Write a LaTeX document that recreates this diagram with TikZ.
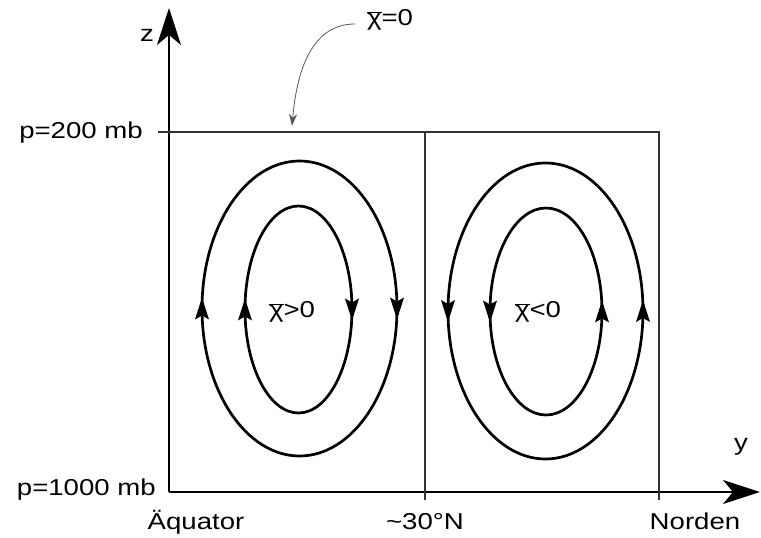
\documentclass[tikz,border=0pt]{standalone}
\usepackage{fontspec}
\setmainfont[FakeStretch=1.2]{Liberation Sans}
\usetikzlibrary{arrows.meta,decorations.markings}
\newcommand{\headfwd}{\fill (11pt,0pt) -- (-11pt,7pt) -- (-7pt,0pt) -- (-11pt,-7pt) -- cycle;}
\newcommand{\headbck}{\fill (-11pt,0pt) -- (11pt,7pt) -- (7pt,0pt) -- (11pt,-7pt) -- cycle;}
\tikzset{
  >={Stealth[length=37pt,width=24pt,inset=10pt]},
  ax/.style={line width=1.3pt},
  bx/.style={line width=1.1pt,black!80},
  ccw/.style={line width=2.7pt,postaction={decorate},decoration={markings,
      mark=at position 0 with {\headfwd},
      mark=at position 0.5 with {\headfwd}}},
  cw/.style={line width=2.7pt,postaction={decorate},decoration={markings,
      mark=at position 0 with {\headbck},
      mark=at position 0.5 with {\headbck}}},
  lbl/.style={font=\fontsize{23}{26}\selectfont,inner sep=0pt},
}
\newcommand{\chibar}{$\overline{\hbox{χ}}$}

\begin{document}
\begin{tikzpicture}[x=1pt,y=1pt]
\useasboundingbox (0,0) rectangle (761,538);
\coordinate (O) at (169,46); \coordinate (ztip) at (169,530); \coordinate (ytip) at (760,46);
\coordinate (tl) at (169,406); \coordinate (tm) at (425,406); \coordinate (tr) at (659,406);
\coordinate (bm) at (425,38); \coordinate (br) at (659,38); \coordinate (tick) at (158,406);
\coordinate (hit) at (292,412);
% axes and box
\draw[ax,->] (O) -- (ztip); \draw[ax,->] (O) -- (ytip);
\draw[bx] (tick) -- (tr) -- (br); \draw[bx] (tm) -- (bm);
% cells
\draw[cw] (299.5,229.5) ellipse [x radius=97.5,y radius=147.5];
\draw[cw] (298.5,228.5) ellipse [x radius=53.5,y radius=103.5];
\draw[ccw] (545.5,227) ellipse [x radius=97.5,y radius=148];
\draw[ccw] (546,226.5) ellipse [x radius=56,y radius=103.5];
% labels
\node[lbl] (z) at (147,503){z}; \node[lbl] (y) at (741,91){y};
\node[lbl,anchor=base east] (p200) at (143,399){p=200 mb};
\node[lbl,anchor=base east] (p1000) at (156,42){p=1000 mb};
\node[lbl,anchor=base] (eq) at (196,8){Äquator};
\node[lbl,anchor=base] (lat) at (425,8){\textasciitilde30°N};
\node[lbl,anchor=base] (north) at (695,8){Norden};
\node[lbl] (pos) at (292,226){\chibar>0};
\node[lbl] (neg) at (538,226){\chibar<0};
\node[lbl] (zero) at (390,518){\chibar=0};
\draw[black!65,line width=0.8pt,-{Stealth[length=12pt,width=8pt]}]
  ([xshift=-12pt,yshift=-4pt]zero.west) to[out=180,in=85] (hit);
\end{tikzpicture}
\end{document}
